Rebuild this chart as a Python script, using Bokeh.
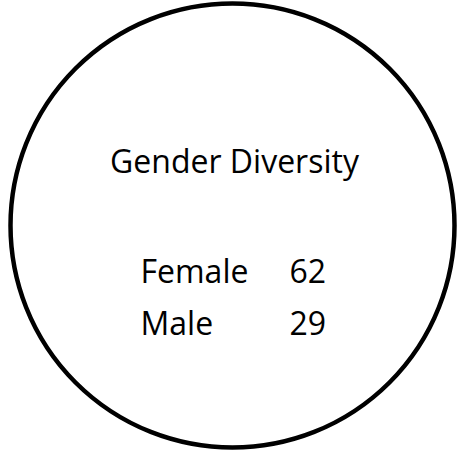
from bokeh.plotting import figure
from bokeh.models import ColumnDataSource
from bokeh.core.properties import value
from bokeh.embed import file_html
from bokeh.resources import INLINE

# Data
title_text = "Gender Diversity"
categories = ["Female", "Male"]
counts = [62, 29]

# Layout (pixel-space data coordinates)
W, H = 458, 450
FONT = "Open Sans"
FSIZE = "32px"
cx, cy, r = 232, 225, 222
row_base = 180
row_gap = 52

p = figure(width=W, height=H, x_range=(0, W), y_range=(0, H),
           output_backend="svg", toolbar_location=None, min_border=0)
p.axis.visible = False
p.grid.visible = False
p.outline_line_color = None
p.background_fill_color = "white"
p.border_fill_color = "white"

p.circle(x=[cx], y=[cy], radius=r, fill_color=None, line_color="black", line_width=4.5)

p.text(x=[234], y=[290], text=[title_text], text_font=value(FONT), text_font_size=FSIZE,
       text_align="center", text_baseline="alphabetic", text_color="black")

ys = [row_base - i * row_gap for i in range(len(categories))]
src = ColumnDataSource(dict(x=[140] * len(categories), xv=[289] * len(categories), y=ys,
                            lab=categories, val=[str(v) for v in counts]))
p.text(x="x", y="y", text="lab", source=src, text_font=value(FONT), text_font_size=FSIZE,
       text_align="left", text_baseline="alphabetic", text_color="black")
p.text(x="xv", y="y", text="val", source=src, text_font=value(FONT), text_font_size=FSIZE,
       text_align="left", text_baseline="alphabetic", text_color="black")

open("out.html", "w").write(file_html(p, INLINE))
